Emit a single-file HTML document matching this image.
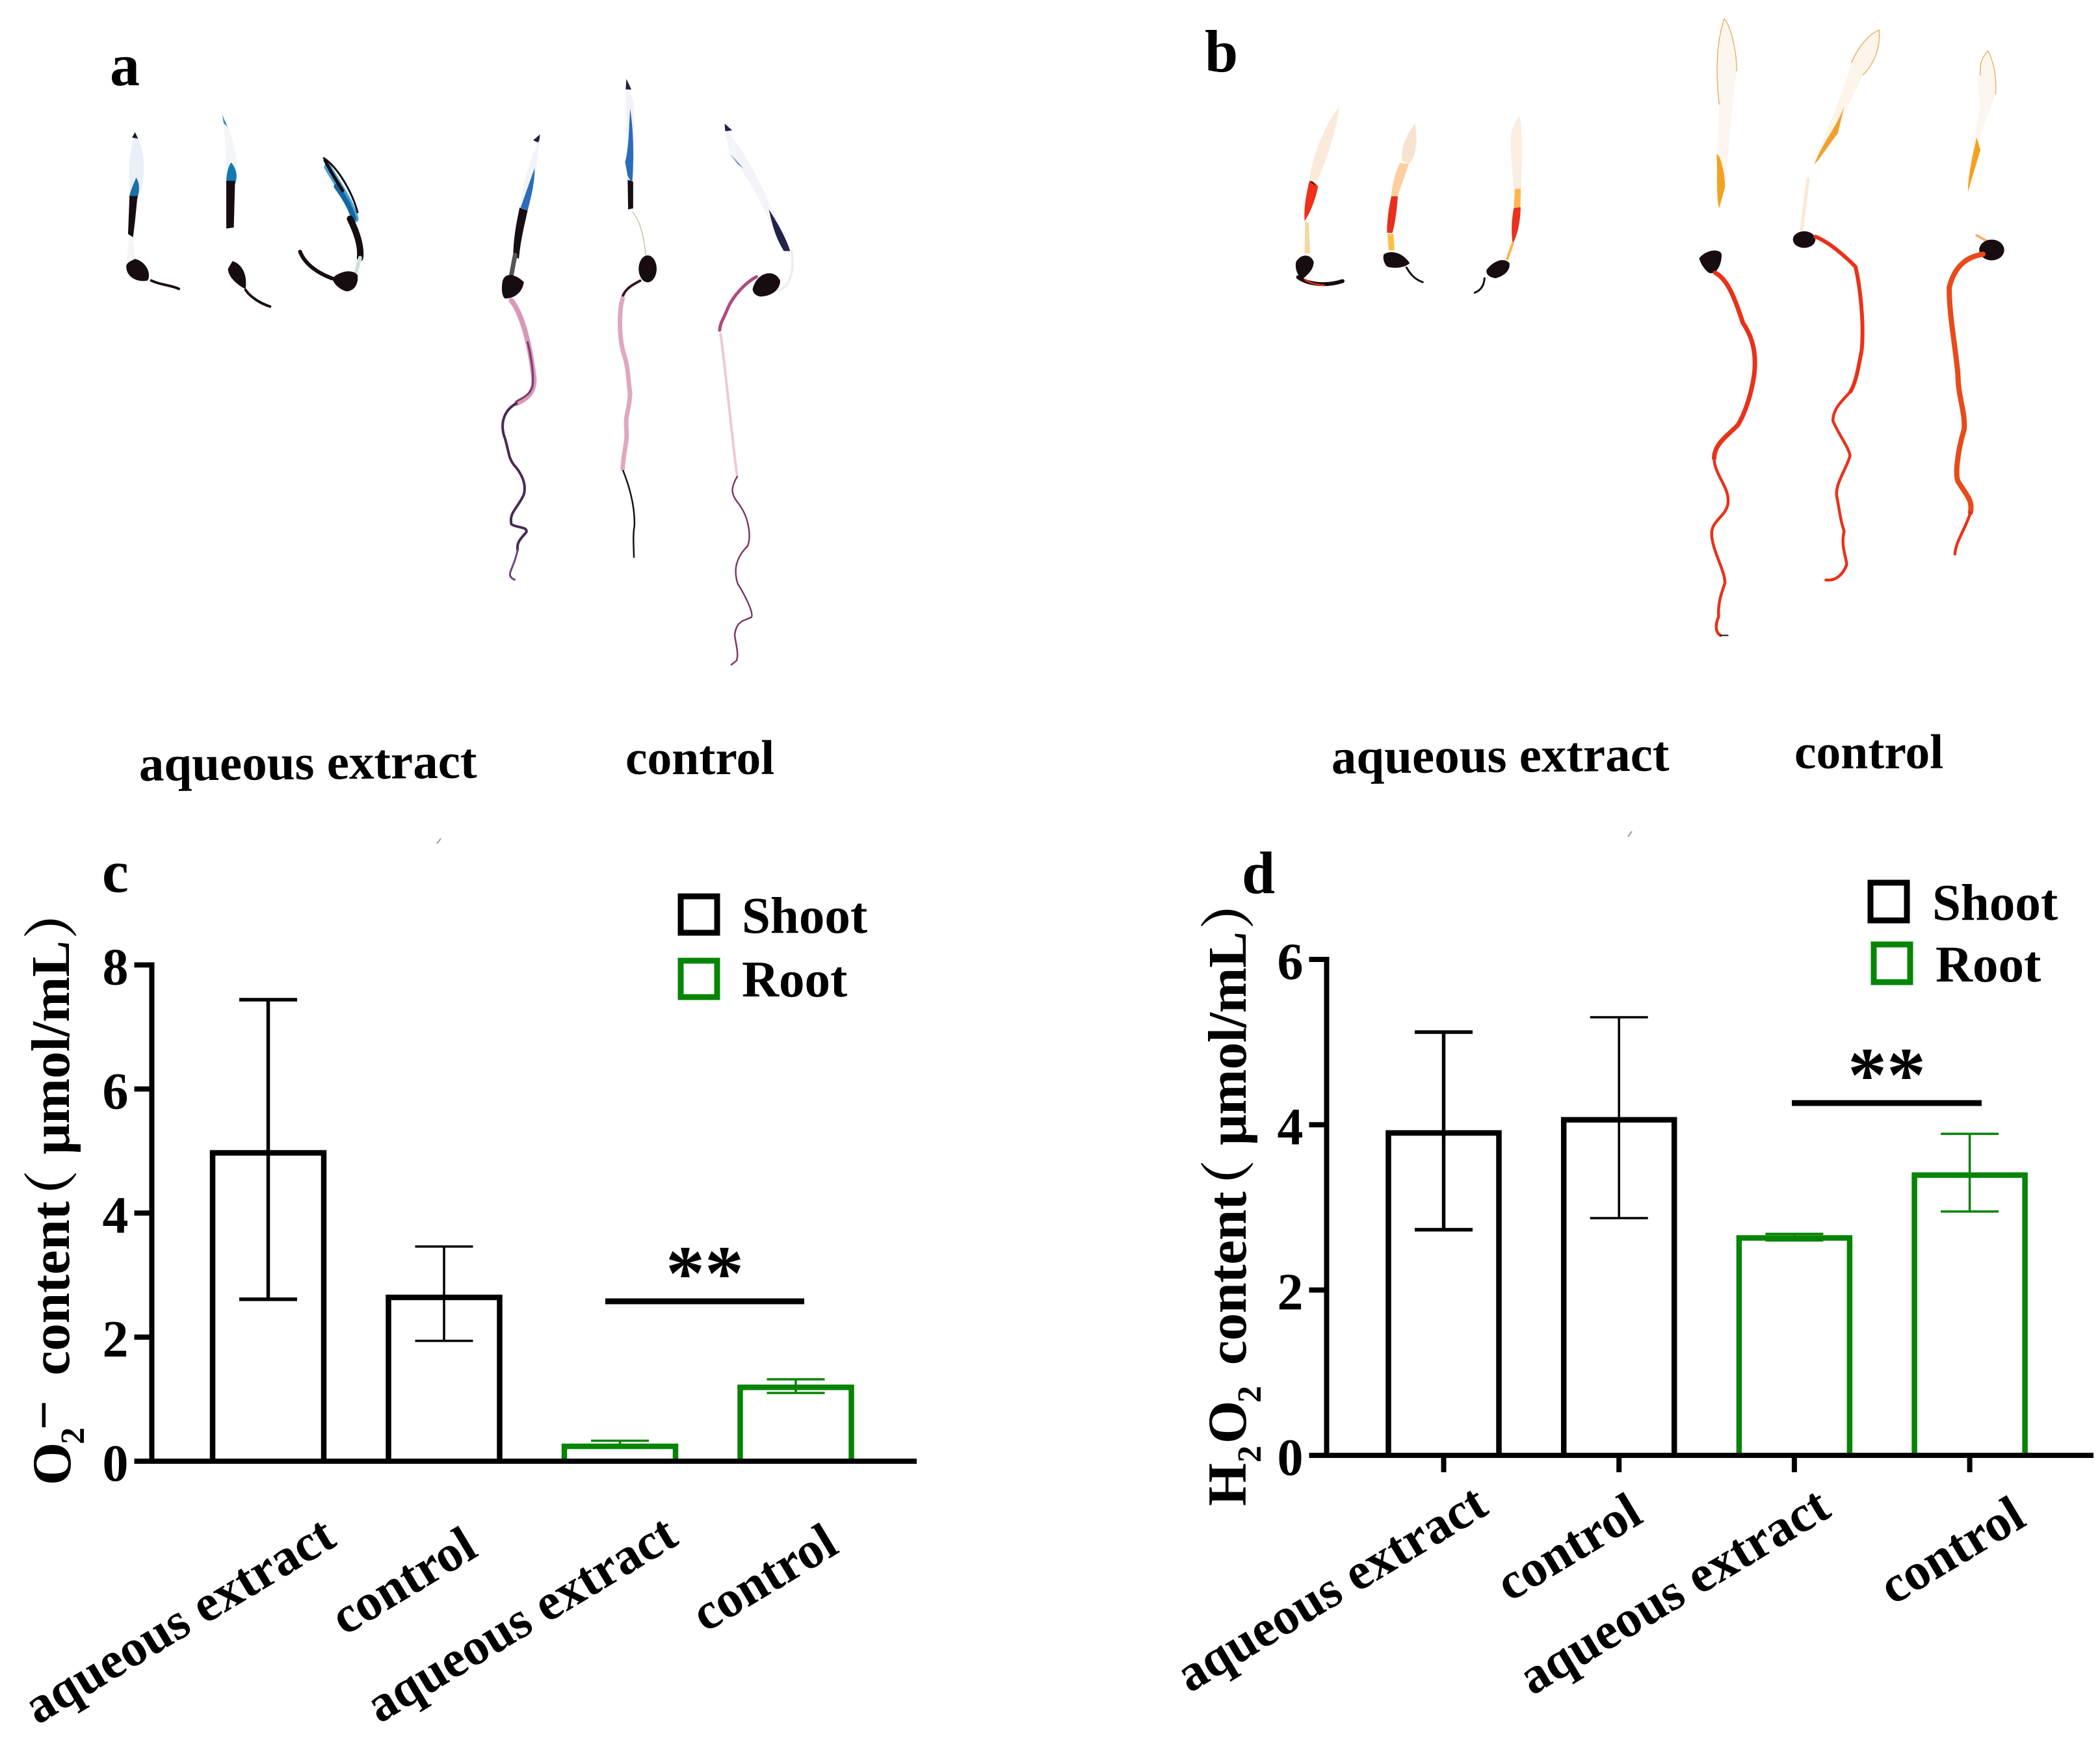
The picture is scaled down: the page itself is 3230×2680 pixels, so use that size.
<!DOCTYPE html>
<html lang="en">
<head>
<meta charset="utf-8">
<title>Seedling staining and ROS content</title>
<style>
html,body{margin:0;padding:0;background:#fff;}
body{width:3230px;height:2680px;overflow:hidden;}
svg{display:block;}
text{font-family:"Liberation Serif","Noto Serif CJK SC",serif;font-weight:bold;fill:#000;}
.cjk{font-family:"Noto Serif CJK SC","Liberation Serif",serif;font-weight:bold;}
.ns{vector-effect:non-scaling-stroke;fill:none;stroke-linecap:round;stroke-linejoin:round;}
</style>
</head>
<body>
<svg id="fig" xmlns="http://www.w3.org/2000/svg" width="3230" height="2680" viewBox="0 0 3230 2680">
  <rect width="3230" height="2680" fill="#fff"/>

  <!-- panel labels -->
  <text x="169" y="131" font-size="92">a</text>
  <text x="1853" y="110" font-size="92">b</text>
  <text x="157" y="1372" font-size="92">c</text>
  <text x="1910" y="1374" font-size="92">d</text>

  <!-- treatment captions -->
  <text x="214" y="1201" font-size="77" transform="rotate(-0.5 214 1201)">aqueous extract</text>
  <text x="962" y="1191" font-size="75.5">control</text>
  <text x="2048" y="1190" font-size="77" transform="rotate(-0.5 2048 1190)">aqueous extract</text>
  <text x="2760" y="1182" font-size="75.5">control</text>

  <!-- stray marks -->
  <path d="M672 1298 L678 1290" stroke="#999" stroke-width="2" fill="none"/>
  <path d="M2504 1287 L2510 1279" stroke="#999" stroke-width="2" fill="none"/>

  <!-- Panel a: aqueous extract seedlings -->
  <g transform="translate(100,40) scale(.3846,.3333)">
    <g>
      <path d="M280 490 C315 560 325 650 305 760 L262 790 C250 700 255 580 280 490Z" fill="#eaf0f7"/>
      <path d="M256 790 C265 750 275 725 285 700 C300 730 298 760 290 795Z" fill="#1c6fa8"/>
      <path d="M258 785 L290 785 L280 900 L272 975 L252 960Z" fill="#170d10"/>
      <path d="M268 515 L280 490 L292 520Z" fill="#1a1a2a"/>
      <path d="M280 1075 C330 1090 345 1150 330 1175 C290 1185 245 1160 245 1110 C245 1095 260 1085 280 1075Z" fill="#170d10"/>
      <path class="ns" d="M345 1175 C380 1195 420 1195 455 1213" stroke="#170d10" stroke-width="4"/>
      <path d="M258 975 L272 975 L280 1075 L245 1095Z" fill="#f4f5f6"/>
    </g>
    <g>
      <path d="M628 410 C680 520 700 640 680 720 L645 720 C640 600 645 520 628 410Z" fill="#f3f5f9"/>
      <path d="M628 408 L650 465 L635 450Z" fill="#3e88c0"/>
      <path d="M645 720 C645 680 655 640 665 630 C685 660 692 690 680 730Z" fill="#1578b0"/>
      <path d="M645 715 L680 715 L675 930 L645 935Z" fill="#170d10"/>
      <path d="M670 1085 C710 1100 730 1150 722 1215 C680 1190 650 1150 652 1120Z" fill="#170d10"/>
      <path class="ns" d="M722 1218 C740 1250 780 1280 820 1295" stroke="#170d10" stroke-width="4"/>
    </g>
    <g>
      <path class="ns" d="M1050 650 C1090 730 1140 810 1160 890" stroke="#4aa0d8" stroke-width="11"/>
      <path class="ns" d="M1085 740 C1110 780 1140 830 1155 890" stroke="#13679f" stroke-width="8"/>
      <path class="ns" d="M1035 610 C1090 650 1150 770 1170 860" stroke="#170d10" stroke-width="3"/>
      <path class="ns" d="M1040 620 C1070 690 1090 720 1110 760" stroke="#170d10" stroke-width="5"/>
      <path class="ns" d="M1140 890 C1170 960 1185 1020 1180 1070" stroke="#170d10" stroke-width="10"/>
      <path class="ns" d="M1180 1070 L1160 1150" stroke="#cfe0d8" stroke-width="6"/>
      <path d="M1068 1165 C1100 1130 1150 1120 1170 1150 C1175 1200 1150 1225 1125 1225 C1095 1215 1075 1190 1068 1165Z" fill="#170d10"/>
      <path class="ns" d="M940 1042 C960 1100 1010 1140 1068 1165" stroke="#170d10" stroke-width="6"/>
    </g>
  </g>

  <!-- Panel a: control seedlings -->
  <g transform="translate(700,100) scale(.3846,.609)">
    <g>
      <path d="M340 175 L312 190 L335 197Z" fill="#222240"/>
      <path d="M335 190 C330 260 310 320 285 365 L255 370 C270 300 300 240 335 190Z" fill="#f2f3f9"/>
      <path d="M318 260 L262 360 L290 368 C305 330 318 300 318 260Z" fill="#2a6cb8"/>
      <path d="M258 360 L290 368 C275 410 260 450 255 490 L232 480 C235 430 245 400 258 360Z" fill="#170d14"/>
      <path class="ns" d="M240 480 L225 530" stroke="#555" stroke-width="7"/>
      <path d="M190 545 C200 525 235 525 275 548 C270 575 235 590 200 590 C185 585 185 560 190 545Z" fill="#170d10"/>
      <path class="ns" d="M225 595 C270 630 300 710 315 790 C320 830 280 845 245 855" stroke="#d998b8" stroke-width="8"/>
      <path class="ns" d="M290 700 C305 740 315 780 310 810 C300 835 270 840 245 850" stroke="#7a3a70" stroke-width="3"/>
      <path class="ns" d="M245 855 C200 870 180 900 195 935 C215 970 210 990 235 1010 C270 1035 285 1060 275 1085 C250 1120 215 1130 225 1160 C245 1170 290 1165 285 1180 C265 1195 245 1205 250 1225" stroke="#4b2a55" stroke-width="4"/>
      <path class="ns" d="M250 1225 C240 1260 215 1280 220 1290 C225 1297 235 1300 238 1300" stroke="#6b4a7a" stroke-width="3"/>
    </g>
    <g>
      <path d="M685 35 L705 62 L682 62Z" fill="#222240"/>
      <path d="M682 60 C700 70 720 80 715 130 C720 220 715 300 712 360 L692 362 C690 300 685 200 682 60Z" fill="#f2f3f9"/>
      <path d="M700 110 C715 170 715 240 708 300 L690 280 L680 245 C695 210 695 160 700 110Z" fill="#2a6cb8"/>
      <path d="M690 290 L712 295 L712 362 L692 365Z" fill="#170d14"/>
      <path class="ns" d="M710 372 C740 395 755 430 762 480" stroke="#cdbfa8" stroke-width="1.5"/>
      <ellipse cx="770" cy="515" rx="36" ry="34" fill="#170d10"/>
      <path class="ns" d="M740 545 C710 555 680 565 670 585" stroke="#3a1525" stroke-width="4"/>
      <path class="ns" d="M670 590 C655 620 655 690 675 730 C695 770 690 790 700 830 C695 880 680 880 685 920 C690 950 675 970 670 1020" stroke="#dfa8c0" stroke-width="7"/>
      <path class="ns" d="M672 1025 C700 1070 720 1120 717 1165 C710 1190 715 1220 715 1243" stroke="#1a1020" stroke-width="2.5"/>
    </g>
    <g>
      <path d="M1078 148 L1108 165 L1080 168Z" fill="#222240"/>
      <path d="M1080 165 C1150 200 1250 330 1340 470 L1290 440 C1230 350 1160 270 1100 230Z" fill="#f3f4f9"/>
      <path d="M1100 225 L1155 262 L1130 250Z" fill="#5a7ec0"/>
      <path d="M1255 365 C1280 390 1320 430 1340 470 L1315 470 C1285 440 1270 410 1255 365Z" fill="#23234a"/>
      <path class="ns" d="M1345 470 C1360 530 1330 565 1290 570" stroke="#eeeeee" stroke-width="4"/>
      <path d="M1190 565 C1210 520 1280 515 1300 545 C1300 570 1260 585 1220 585 C1200 582 1190 575 1190 565Z" fill="#170d10"/>
      <path class="ns" d="M1205 535 C1160 550 1110 585 1090 615 C1075 640 1060 650 1058 670" stroke="#b04a80" stroke-width="5"/>
      <path class="ns" d="M1062 680 C1080 760 1100 900 1128 1040" stroke="#edc8d8" stroke-width="4"/>
      <path class="ns" d="M1128 1040 C1100 1070 1105 1085 1130 1105 C1175 1140 1185 1190 1170 1215 C1130 1240 1110 1270 1130 1310 C1160 1340 1195 1385 1185 1395 C1150 1405 1125 1405 1118 1440 C1125 1470 1135 1490 1125 1505 L1105 1515" stroke="#7a3a6a" stroke-width="2.5"/>
    </g>
  </g>

  <!-- Panel b: aqueous extract seedlings -->
  <g transform="translate(1950,131) scale(.3333,.332)">
    <g>
      <path d="M330 100 C320 200 270 350 230 440 L190 450 C200 350 260 180 330 100Z" fill="#fbeada"/>
      <path d="M190 450 C200 440 220 450 232 470 C215 550 190 600 170 630 C165 560 180 500 190 450Z" fill="#f0301a"/>
      <path d="M190 445 L200 450 L222 470 L205 445Z" fill="#2a1008"/>
      <path d="M172 630 L190 640 L195 780 L170 780Z" fill="#f7d6a0"/>
      <path d="M130 820 C150 780 200 780 212 820 C210 860 180 880 160 900 C135 880 125 850 130 820Z" fill="#170d10"/>
      <path class="ns" d="M140 890 C180 920 260 935 345 908" stroke="#170d10" stroke-width="6"/>
      <path class="ns" d="M170 900 C190 915 220 925 260 928" stroke="#e8301c" stroke-width="2.5"/>
    </g>
    <g>
      <path d="M680 180 C690 250 690 330 650 365 L620 350 C610 300 640 220 680 180Z" fill="#f7e4d0"/>
      <path d="M610 360 L650 365 C630 430 610 480 600 515 L570 515 C575 450 590 400 610 360Z" fill="#fbcfa0"/>
      <path d="M570 515 L600 515 C595 590 585 650 575 685 L550 685 C550 620 560 560 570 515Z" fill="#e8301c"/>
      <path d="M552 690 L580 690 L585 765 L558 765Z" fill="#fcc04a"/>
      <path d="M535 785 C560 765 620 770 655 825 C630 850 570 850 550 840 C535 825 530 800 535 785Z" fill="#170d10"/>
      <path class="ns" d="M640 845 C660 880 680 900 715 913" stroke="#170d10" stroke-width="3"/>
    </g>
    <g>
      <path d="M1160 140 C1180 200 1170 350 1170 480 L1135 480 C1130 400 1115 300 1125 210 C1135 180 1150 160 1160 140Z" fill="#faeee0"/>
      <path d="M1140 480 L1168 480 L1165 570 L1135 570Z" fill="#fdb550"/>
      <path d="M1135 570 L1167 565 C1165 640 1150 700 1130 735 C1122 680 1125 620 1135 570Z" fill="#e8301c"/>
      <path class="ns" d="M1130 735 L1105 805" stroke="#fcb24a" stroke-width="4"/>
      <path d="M1010 855 C1040 815 1090 795 1115 825 C1120 860 1090 885 1050 895 C1020 890 1005 875 1010 855Z" fill="#170d10"/>
      <path class="ns" d="M1000 895 C998 925 985 950 955 962" stroke="#170d10" stroke-width="3"/>
    </g>
  </g>

  <!-- Panel b: control seedlings -->
  <g transform="translate(2550,0) scale(.3846,.641)">
    <g>
      <path d="M265 45 C290 60 315 120 315 170 C300 240 290 300 270 450 L245 500 C225 450 240 350 245 250 C230 170 235 100 265 45Z" fill="#fdf6ee"/>
      <path class="ns" d="M245 250 C230 170 235 100 265 45 C290 60 315 120 315 170" stroke="#e9b070" stroke-width="1.5"/>
      <path d="M235 370 C250 370 270 420 268 450 L245 500 C232 470 240 420 235 370Z" fill="#f2a21e"/>
      <path d="M165 620 C190 600 245 595 255 610 C255 640 230 660 205 655 C190 650 172 635 165 620Z" fill="#170d10"/>
      <path class="ns" d="M230 655 C280 670 310 720 340 775 C380 810 395 850 385 900 C370 960 340 1000 320 1020 C280 1045 225 1065 225 1100" stroke="#e8321a" stroke-width="7"/>
      <path class="ns" d="M225 1100 C225 1140 290 1170 280 1210 C270 1240 215 1250 215 1280 C215 1320 270 1370 268 1400 C250 1430 240 1450 243 1480 C225 1505 235 1520 250 1525" stroke="#e8321a" stroke-width="4.5"/>
      <path class="ns" d="M250 1525 L280 1525" stroke="#170d10" stroke-width="2"/>
    </g>
    <g>
      <path d="M885 72 C890 110 870 150 820 180 C780 230 740 280 700 330 L625 395 C640 360 720 260 775 150 C800 110 850 80 885 72Z" fill="#fdf4ea"/>
      <path class="ns" d="M775 150 C800 110 850 80 885 72 C890 110 870 150 820 180" stroke="#e9b070" stroke-width="1.5"/>
      <path d="M625 395 C660 340 710 310 745 255 L720 320 C680 350 650 380 625 395Z" fill="#f0a030"/>
      <path class="ns" d="M600 430 L575 550" stroke="#fde8d0" stroke-width="5"/>
      <ellipse cx="585" cy="575" rx="45" ry="20" fill="#170d10"/>
      <path class="ns" d="M630 568 C680 580 740 610 790 640 C810 690 825 780 815 840 C800 890 790 920 770 940" stroke="#e8321a" stroke-width="6"/>
      <path class="ns" d="M770 940 C740 960 700 980 700 1010 C720 1040 770 1080 768 1095 C750 1130 710 1160 715 1190 C725 1220 730 1250 745 1275 C730 1310 755 1340 755 1355 C740 1380 710 1395 672 1392" stroke="#e8321a" stroke-width="4.5"/>
    </g>
    <g>
      <path d="M1320 122 C1350 160 1355 200 1350 225 C1330 260 1290 320 1270 370 L1240 460 C1240 420 1265 340 1290 250 C1270 200 1280 160 1320 122Z" fill="#fdf6ee"/>
      <path class="ns" d="M1290 180 C1285 150 1300 135 1320 122 C1345 150 1355 190 1350 225" stroke="#e9b070" stroke-width="1.5"/>
      <path d="M1275 330 L1290 360 L1240 460 C1240 420 1260 370 1275 330Z" fill="#f2a21e"/>
      <path class="ns" d="M1275 565 L1320 580" stroke="#f8b070" stroke-width="4"/>
      <ellipse cx="1335" cy="600" rx="50" ry="25" fill="#170d10"/>
      <path class="ns" d="M1300 610 C1250 615 1190 630 1165 690 C1165 760 1190 830 1200 900 C1200 950 1230 990 1225 1030 C1195 1090 1190 1140 1200 1155 C1235 1190 1260 1200 1250 1230" stroke="#e84a1a" stroke-width="8"/>
      <path class="ns" d="M1250 1230 C1230 1270 1190 1300 1188 1330" stroke="#e8321a" stroke-width="4.5"/>
    </g>
  </g>

  <!-- Y-axis titles -->
  <g transform="translate(106,2285) rotate(-90)">
    <text x="0" y="2" font-size="85">O</text>
    <text x="63" y="23" font-size="52">2</text>
    <text x="85" y="-12" font-size="80">&#8722;</text>
    <text x="169" y="0" font-size="85" textLength="268">content</text>
    <text class="cjk" x="400" y="4" font-size="85">（</text>
    <text x="509" y="0" font-size="84" textLength="329">μmol/mL</text>
    <text class="cjk" x="840" y="4" font-size="85">）</text>
  </g>
  <g transform="translate(1916,2317) rotate(-90)">
    <text x="0" y="0" font-size="85">H</text>
    <text x="67" y="23" font-size="52">2</text>
    <text x="96" y="0" font-size="85">O</text>
    <text x="159" y="23" font-size="52">2</text>
    <text x="217" y="0" font-size="85" textLength="267">content</text>
    <text class="cjk" x="448" y="4" font-size="85">（</text>
    <text x="555" y="0" font-size="84" textLength="329">μmol/mL</text>
    <text class="cjk" x="887" y="4" font-size="85">）</text>
  </g>

  <g id="chart-c"></g>
  <g id="chart-d"></g>
</svg>

<script>
var categories = ['aqueous extract', 'control', 'aqueous extract', 'control'];
var groups = ['Shoot', 'Shoot', 'Root', 'Root'];
var legendLabels = ['Shoot', 'Root'];

var cTicks = [0, 2, 4, 6, 8];
var cMeans = [4.97, 2.64, 0.24, 1.19];
var cErrHigh = [7.44, 3.46, 0.33, 1.32];
var cErrLow = [2.61, 1.94, 0.22, 1.10];

var dTicks = [0, 2, 4, 6];
var dMeans = [3.90, 4.06, 2.63, 3.39];
var dErrHigh = [5.12, 5.30, 2.68, 3.89];
var dErrLow = [2.73, 2.87, 2.60, 2.95];

var GREEN = '#068406';
var NS = 'http://www.w3.org/2000/svg';

function mk(parent, tag, attrs, txt) {
  var el = document.createElementNS(NS, tag);
  for (var k in attrs) el.setAttribute(k, attrs[k]);
  if (txt !== undefined) el.textContent = txt;
  parent.appendChild(el);
  return el;
}

function drawChart(rootId, L, means, hi, lo, ticks) {
  var root = document.getElementById(rootId);
  var maxTick = ticks[ticks.length - 1];
  function y(v) { return L.zeroY - v * (L.zeroY - L.topY) / maxTick; }
  function x(i) { return L.firstX + i * L.stepX; }
  function color(i) { return groups[i] === 'Shoot' ? '#000' : GREEN; }

  means.forEach(function (m, i) {
    var bar = mk(root, 'path', {
      d: 'M' + (x(i) - L.barW / 2) + ' ' + L.zeroY + ' V' + y(m) + ' H' + (x(i) + L.barW / 2) + ' V' + L.zeroY,
      fill: 'none', stroke: color(i), 'stroke-width': 8.5, 'stroke-linejoin': 'miter'
    });
    
    

    var err = mk(root, 'path', {
      d: 'M' + x(i) + ' ' + y(hi[i]) + ' V' + y(lo[i]) +
         ' M' + (x(i) - L.capW) + ' ' + y(hi[i]) + ' H' + (x(i) + L.capW) +
         ' M' + (x(i) - L.capW) + ' ' + y(lo[i]) + ' H' + (x(i) + L.capW),
      fill: 'none', stroke: color(i), 'stroke-width': L.errW[i]
    });
    
    
  });

  var axisY = mk(root, 'path', {
    d: 'M' + L.axisX + ' ' + (L.topY - 4) + ' V' + (L.zeroY + 4),
    stroke: '#000', 'stroke-width': 8, fill: 'none'
  });
  
  

  var axisX = mk(root, 'path', {
    d: 'M' + L.axisX + ' ' + L.zeroY + ' H' + L.axisEnd,
    stroke: '#000', 'stroke-width': 8, fill: 'none'
  });
  
  

  ticks.forEach(function (t) {
    var tk = mk(root, 'path', {
      d: 'M' + (L.axisX - 27) + ' ' + y(t) + ' H' + L.axisX,
      stroke: '#000', 'stroke-width': 8, fill: 'none'
    });
    
    

    var lab = mk(root, 'text', {
      x: L.axisX - 36, y: y(t) + 30, 'font-size': 80, 'text-anchor': 'end'
    }, String(t));
    
    
  });

  categories.forEach(function (c, i) {
    if (L.xTicks) {
      var xt = mk(root, 'path', {
        d: 'M' + x(i) + ' ' + L.zeroY + ' V' + (L.zeroY + 26),
        stroke: '#000', 'stroke-width': 8, fill: 'none'
      });
      
      
    }
    var px = x(i) + L.labelDx[i];
    var py = L.labelY[i];
    var lab = mk(root, 'text', {
      x: px, y: py, 'font-size': 80, 'text-anchor': 'end',
      transform: 'rotate(-31 ' + px + ' ' + py + ')'
    }, c);
    
    
  });

  var sig = mk(root, 'path', {
    d: 'M' + L.sigX1 + ' ' + L.sigY + ' H' + L.sigX2,
    stroke: '#000', 'stroke-width': 9, fill: 'none'
  });
  
  

  var stars = mk(root, 'text', {
    x: (L.sigX1 + L.sigX2) / 2, y: L.sigY - 3, 'font-size': 120, 'text-anchor': 'middle'
  }, '**');
  
  

  legendLabels.forEach(function (name, i) {
    var col = name === 'Shoot' ? '#000' : GREEN;
    var box = mk(root, 'rect', {
      x: L.legX[i], y: L.legY[i], width: L.legW, height: L.legH,
      fill: 'none', stroke: col, 'stroke-width': 9
    });
    
    

    var t = mk(root, 'text', {
      x: L.legTextX[i], y: L.legTextY[i], 'font-size': 79
    }, name);
    
    
  });
}

drawChart('chart-c', {
  zeroY: 2248, topY: 1484.5, axisX: 233.5, axisEnd: 1410,
  firstX: 412.5, stepX: 270.5, barW: 171, capW: 44.5, xTicks: false,
  errW: [5.5, 3.5, 3.5, 3.5],
  labelDx: [108, 55, 93, 69], labelY: [2376, 2392, 2374, 2387],
  sigX1: 931, sigX2: 1237, sigY: 2002,
  legX: [1047, 1047], legY: [1379, 1478], legW: 56, legH: 56,
  legTextX: [1141, 1141], legTextY: [1435, 1533]
}, cMeans, cErrHigh, cErrLow, cTicks);

drawChart('chart-d', {
  zeroY: 2239, topY: 1476, axisX: 2040.5, axisEnd: 3220,
  firstX: 2220.5, stepX: 269.7, barW: 170, capW: 44.5, xTicks: true,
  errW: [5.5, 3.5, 3.5, 3.5],
  labelDx: [72, 40, 59.5, 90], labelY: [2327, 2340, 2331, 2345],
  sigX1: 2756, sigX2: 3048, sigY: 1697,
  legX: [2877, 2882], legY: [1358, 1453], legW: 56, legH: 58,
  legTextX: [2972, 2977], legTextY: [1415, 1510]
}, dMeans, dErrHigh, dErrLow, dTicks);
</script>
</body>
</html>
